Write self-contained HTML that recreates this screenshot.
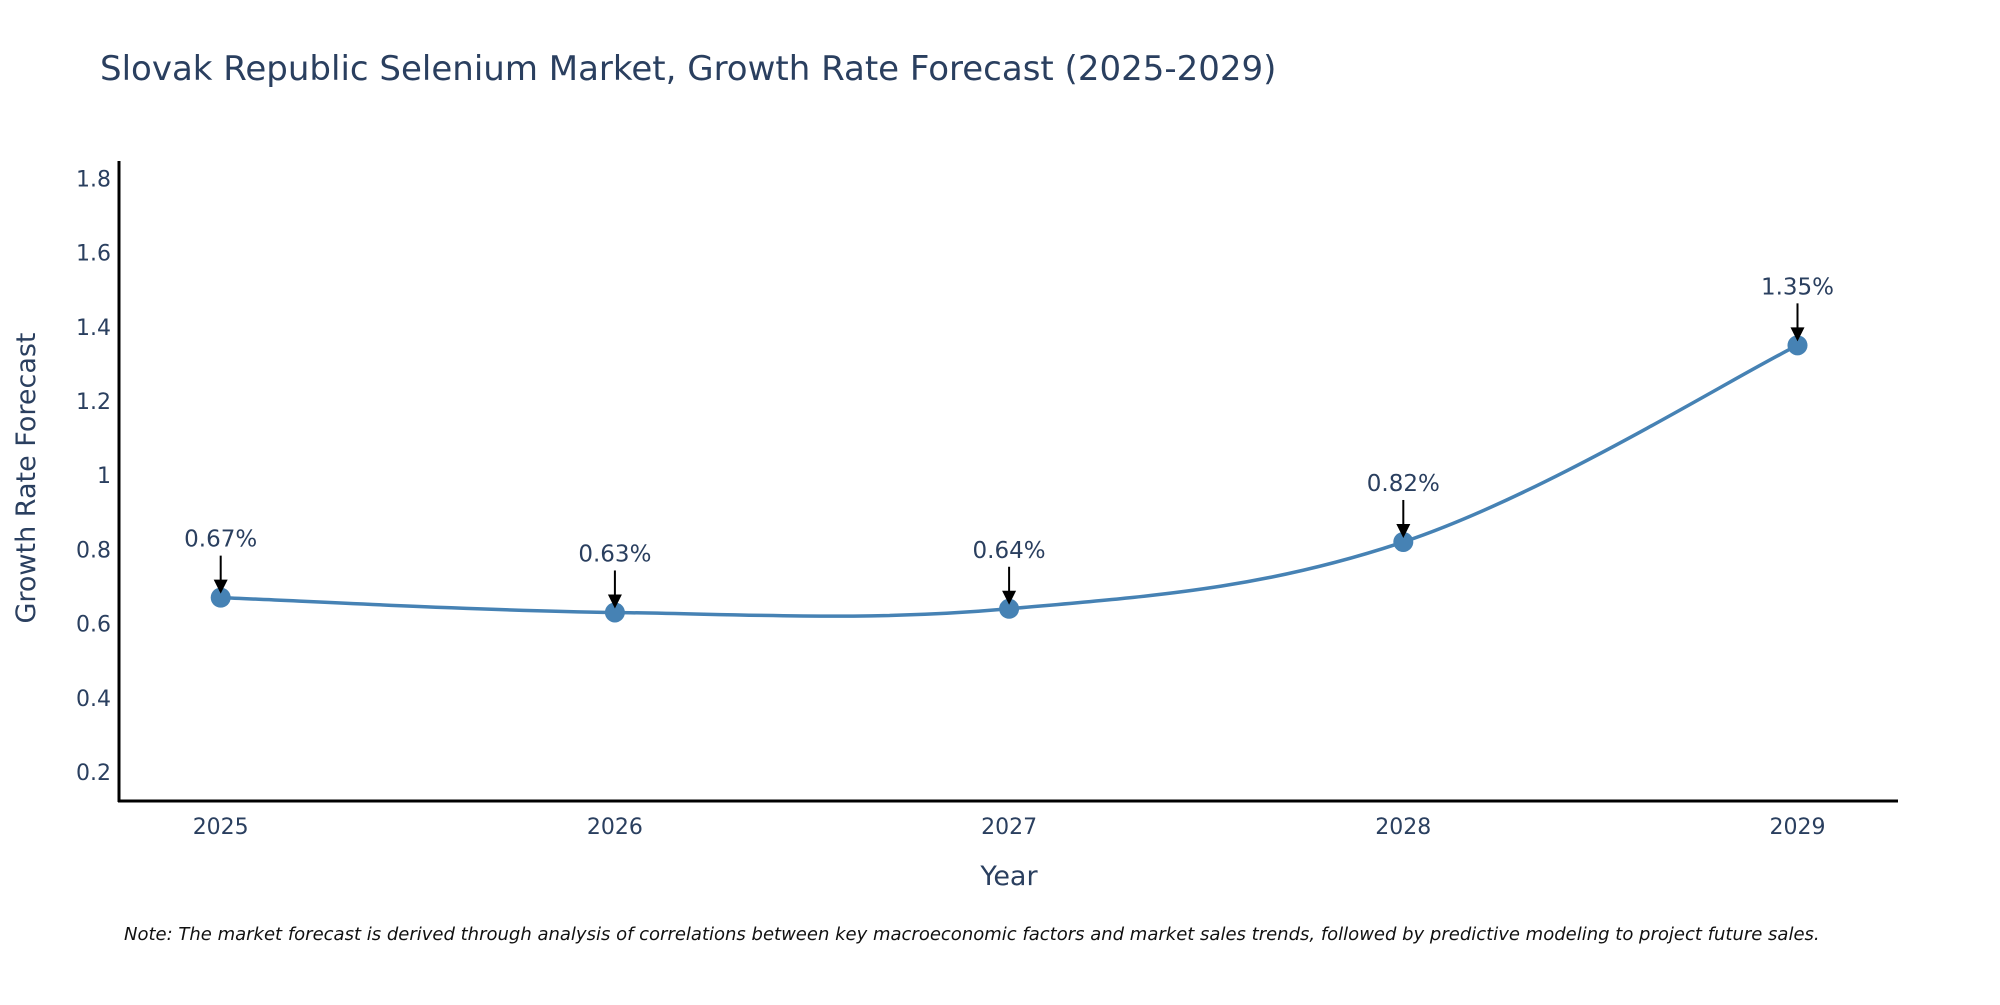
<!DOCTYPE html>
<html><head><meta charset="utf-8"><style>
body{margin:0;background:#fff;}
svg text{font-family:"DejaVu Sans","Liberation Sans",sans-serif;fill:#2a3f5f;}
</style></head><body>
<svg id="chart" width="2000" height="1000" viewBox="0 0 2000 1000" xmlns="http://www.w3.org/2000/svg">
<text x="100" y="80" font-size="34">Slovak Republic Selenium Market, Growth Rate Forecast (2025-2029)</text>
<g id="yticks"></g>
<g id="xticks"></g>
<line x1="119" y1="161" x2="119" y2="802" stroke="#000" stroke-width="3"/>
<line x1="118" y1="801" x2="1898" y2="801" stroke="#000" stroke-width="3"/>
<text x="1009" y="885" font-size="27" text-anchor="middle">Year</text>
<text transform="translate(35,478) rotate(-90)" font-size="27" text-anchor="middle">Growth Rate Forecast</text>
<path id="line" fill="none" stroke="#4682b4" stroke-width="3.5"/>
<g id="marks"></g>
<text x="124" y="940" font-size="18" font-style="italic" style="fill:#111">Note: The market forecast is derived through analysis of correlations between key macroeconomic factors and market sales trends, followed by predictive modeling to project future sales.</text>
</svg>
<script>
const years = [2025, 2026, 2027, 2028, 2029];
const values = [0.67, 0.63, 0.64, 0.82, 1.35];
const labels = ["0.67%", "0.63%", "0.64%", "0.82%", "1.35%"];
const yTicks = [0.2, 0.4, 0.6, 0.8, 1, 1.2, 1.4, 1.6, 1.8];
const NS = "http://www.w3.org/2000/svg";
function xs(y){ return 220.7 + (y - 2025) * 394.2; }
function ys(v){ return 772 - (v - 0.2) / 0.2 * 74.2; }
const yt = document.getElementById('yticks');
yTicks.forEach(t => {
  const e = document.createElementNS(NS, 'text');
  
  
  e.setAttribute('x', 111); e.setAttribute('y', ys(t) + 8);
  e.setAttribute('text-anchor', 'end'); e.setAttribute('font-size', '22');
  e.textContent = String(t);
  yt.appendChild(e);
});
const xt = document.getElementById('xticks');
years.forEach(y => {
  const e = document.createElementNS(NS, 'text');
  
  
  e.setAttribute('x', xs(y)); e.setAttribute('y', 834);
  e.setAttribute('text-anchor', 'middle'); e.setAttribute('font-size', '22');
  e.textContent = String(y);
  xt.appendChild(e);
});
const pts = years.map((y, i) => [xs(y), ys(values[i])]);
let d = 'M' + pts[0][0] + ',' + pts[0][1];
const s = 0.18;
for (let i = 0; i < pts.length - 1; i++) {
  const p0 = pts[Math.max(0, i - 1)], p1 = pts[i], p2 = pts[i + 1], p3 = pts[Math.min(pts.length - 1, i + 2)];
  const c1 = [p1[0] + (p2[0] - p0[0]) * s, p1[1] + (p2[1] - p0[1]) * s];
  const c2 = [p2[0] - (p3[0] - p1[0]) * s, p2[1] - (p3[1] - p1[1]) * s];
  d += ' C' + c1 + ' ' + c2 + ' ' + p2;
}
document.getElementById('line').setAttribute('d', d);
const mk = document.getElementById('marks');
pts.forEach((p, i) => {
  const c = document.createElementNS(NS, 'circle');
  
  
  c.setAttribute('cx', p[0]); c.setAttribute('cy', p[1]); c.setAttribute('r', 10);
  c.setAttribute('fill', '#4682b4');
  mk.appendChild(c);
  const l = document.createElementNS(NS, 'line');
  
  
  l.setAttribute('x1', p[0]); l.setAttribute('y1', p[1] - 42);
  l.setAttribute('x2', p[0]); l.setAttribute('y2', p[1] - 14);
  l.setAttribute('stroke', '#000'); l.setAttribute('stroke-width', '2');
  mk.appendChild(l);
  const a = document.createElementNS(NS, 'path');
  
  
  a.setAttribute('d', 'M' + (p[0] - 7) + ',' + (p[1] - 18) + ' L' + (p[0] + 7) + ',' + (p[1] - 18) + ' L' + p[0] + ',' + (p[1] - 4) + 'Z');
  a.setAttribute('fill', '#000');
  mk.appendChild(a);
  const t = document.createElementNS(NS, 'text');
  
  
  t.setAttribute('x', p[0]); t.setAttribute('y', p[1] - 51);
  t.setAttribute('text-anchor', 'middle'); t.setAttribute('font-size', '23');
  t.textContent = labels[i];
  mk.appendChild(t);
});
</script>
</body></html>
